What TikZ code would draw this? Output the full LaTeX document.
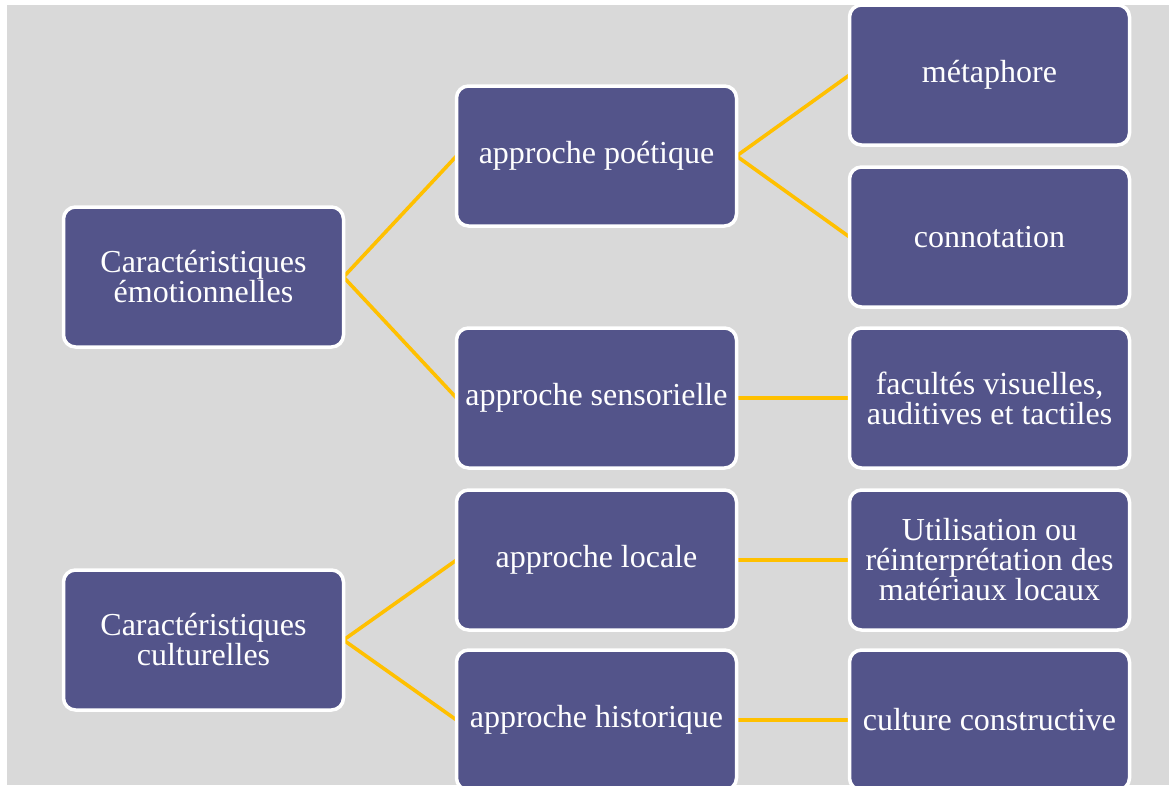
\documentclass[tikz,border=0pt]{standalone}
\usepackage{fontspec}
\setmainfont{Liberation Serif}
\usetikzlibrary{backgrounds}
\definecolor{morado}{HTML}{53548A}
\definecolor{dorado}{HTML}{FFC000}
\definecolor{gris}{HTML}{D9D9D9}
\tikzset{
  caja/.style={rectangle, rounded corners=12pt, fill=morado, draw=white, line width=3.5pt,
    minimum width=280pt, minimum height=140pt, inner sep=2pt, outer sep=0pt,
    text=white, align=center, font=\fontsize{32}{30}\selectfont},
  conector/.style={dorado, line width=3.6pt}
}
\begin{document}
\begin{tikzpicture}[x=1pt, y=-1pt]
        \useasboundingbox (0,0) rectangle (1169,785);
        %%%%%%%%%%%%%%%%%%%%%%%% Primera columna %%%%%%%%%%%%%%%%%%%%%%%%%%%%%%%%%
        \node[caja] (emo) at (203.5,277) {Caractéristiques\\émotionnelles};
        \node[caja] (cul) at (203.5,640) {Caractéristiques\\culturelles};
        %%%%%%%%%%%%%%%%%%%%%%%% Segunda columna %%%%%%%%%%%%%%%%%%%%%%%%%%%%%%%%%
        \node[caja] (poe) at (596.5,156) {approche poétique};
        \node[caja] (sen) at (596.5,398) {approche sensorielle};
        \node[caja] (loc) at (596.5,560) {approche locale};
        \node[caja] (his) at (596.5,720) {approche historique}; %cortada abajo
        %%%%%%%%%%%%%%%%%%%%%%%% Tercera columna %%%%%%%%%%%%%%%%%%%%%%%%%%%%%%%%%
        \node[caja] (met) at (989.5,75) {métaphore};
        \node[caja] (con) at (989.5,237) {connotation};
        \node[caja] (fac) at (989.5,398) {facultés visuelles,\\auditives et tactiles};
        \node[caja] (mat) at (989.5,560) {Utilisation ou\\réinterprétation des\\matériaux locaux};
        \node[caja] (cst) at (989.5,720) {culture constructive};
        %%%%%%%%%%%%%%%%%%%%%%%% Fondo y conectores %%%%%%%%%%%%%%%%%%%%%%%%%%%%%%
        \begin{scope}[on background layer]
          \fill[gris] (7,5) rectangle (1169,785); %Fondo gris
          \draw[conector] (emo.east) -- (poe.west);
          \draw[conector] (emo.east) -- (sen.west);
          \draw[conector] (poe.east) -- (met.west);
          \draw[conector] (poe.east) -- (con.west);
          \draw[conector] (sen.east) -- (fac.west);
          \draw[conector] (cul.east) -- (loc.west);
          \draw[conector] (cul.east) -- (his.west);
          \draw[conector] (loc.east) -- (mat.west);
          \draw[conector] (his.east) -- (cst.west);
        \end{scope}
      \end{tikzpicture}
\end{document}
